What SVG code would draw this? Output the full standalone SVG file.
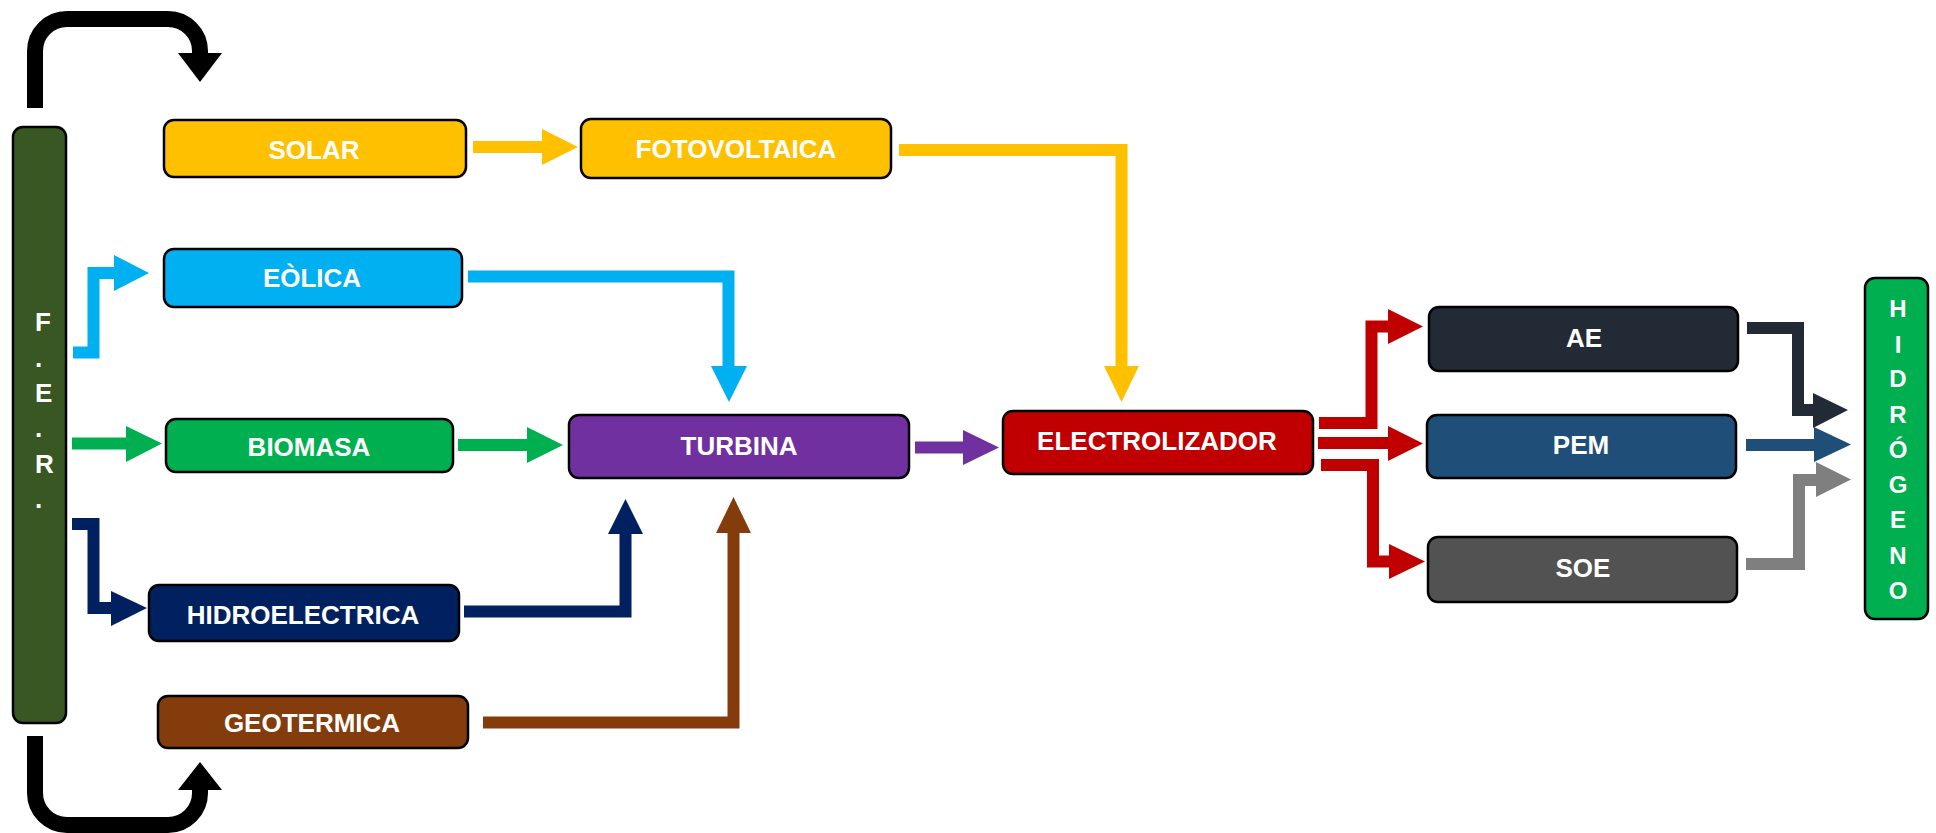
<svg xmlns="http://www.w3.org/2000/svg" width="1936" height="833" viewBox="0 0 1936 833">
<style>
.box{stroke:#000;stroke-width:2.5}
.lbl{font-family:"Liberation Sans",Arial,sans-serif;font-weight:bold;font-size:26px;fill:#fff;text-anchor:middle}
.vl{font-family:"Liberation Sans",Arial,sans-serif;font-weight:bold;fill:#fff}
.ln{fill:none;stroke-width:12;stroke-linejoin:miter;stroke-linecap:butt}
.bk{fill:none;stroke:#000;stroke-width:16}
</style>
<rect width="1936" height="833" fill="#fff"/>
<g id="connectors">
  <!-- FER loops -->
  <path class="bk" d="M35,108 V51 A32,32 0 0 1 67,19 H168 A32,32 0 0 1 200,51 V54"/>
  <polygon fill="#000" points="178,53 222,53 200,82"/>
  <path class="bk" d="M35,736 V793 A32,32 0 0 0 67,825 H168 A32,32 0 0 0 200,793 V789"/>
  <polygon fill="#000" points="178,790 222,790 200,762"/>
  <!-- FER to sources -->
  <path class="ln" stroke="#00B0F0" d="M73,352.5 H93.5 V273 H115"/>
  <polygon fill="#00B0F0" points="114,255 149,273 114,291"/>
  <path class="ln" stroke="#00B050" d="M72,443.5 H127"/>
  <polygon fill="#00B050" points="126,426 162,443.5 126,462"/>
  <path class="ln" stroke="#002060" d="M72,524 H93.5 V608 H112"/>
  <polygon fill="#002060" points="111,591 147,608 111,626"/>
  <!-- SOLAR to FOTOVOLTAICA -->
  <path class="ln" stroke="#FFC000" d="M473,147 H543"/>
  <polygon fill="#FFC000" points="542,129 578,147 542,165"/>
  <!-- FOTOVOLTAICA to ELECTROLIZADOR -->
  <path class="ln" stroke="#FFC000" d="M899,150 H1121.5 V367"/>
  <polygon fill="#FFC000" points="1104,366 1139,366 1121.5,402"/>
  <!-- EOLICA to TURBINA -->
  <path class="ln" stroke="#00B0F0" d="M468,276.5 H728.5 V367"/>
  <polygon fill="#00B0F0" points="711,366 747,366 729,402"/>
  <!-- BIOMASA to TURBINA -->
  <path class="ln" stroke="#00B050" d="M458,445 H528"/>
  <polygon fill="#00B050" points="527,427 563,445 527,463"/>
  <!-- HIDRO to TURBINA -->
  <path class="ln" stroke="#002060" d="M464,611.5 H625.5 V533"/>
  <polygon fill="#002060" points="608,534 643,534 625.5,499"/>
  <!-- GEO to TURBINA -->
  <path class="ln" stroke="#843C0C" d="M483,722.5 H733.5 V532"/>
  <polygon fill="#843C0C" points="716,533 751,533 733.5,497"/>
  <!-- TURBINA to ELECTROLIZADOR -->
  <path class="ln" stroke="#7030A0" d="M915,447.5 H964"/>
  <polygon fill="#7030A0" points="963,430 999,447.5 963,465"/>
  <!-- ELECTROLIZADOR to AE/PEM/SOE -->
  <path class="ln" stroke="#C00000" d="M1319,423 H1371.5 V326.5 H1389"/>
  <polygon fill="#C00000" points="1388,309 1423,326.5 1388,344"/>
  <path class="ln" stroke="#C00000" d="M1318,443 H1389"/>
  <polygon fill="#C00000" points="1388,426 1423,443.5 1388,461"/>
  <path class="ln" stroke="#C00000" d="M1321,465 H1373 V561.5 H1390"/>
  <polygon fill="#C00000" points="1389,544 1425,561.5 1389,579"/>
  <!-- AE/PEM/SOE to HIDROGENO -->
  <path class="ln" stroke="#222A35" d="M1747,328 H1798 V410 H1814"/>
  <polygon fill="#222A35" points="1813,393 1848,410 1813,428"/>
  <path class="ln" stroke="#1F4E79" d="M1746,445 H1815"/>
  <polygon fill="#1F4E79" points="1814,427 1851,444.5 1814,462"/>
  <path class="ln" stroke="#7F7F7F" d="M1746,564 H1799 V480 H1817"/>
  <polygon fill="#7F7F7F" points="1816,462 1851,479.5 1816,497"/>
</g>
<g id="fer">
  <rect class="box" x="13" y="127" width="53" height="596" rx="10" fill="#385723"/>
  <text class="vl" font-size="26" x="35" y="331">F</text>
  <text class="vl" font-size="26" x="35" y="367">.</text>
  <text class="vl" font-size="26" x="35" y="402">E</text>
  <text class="vl" font-size="26" x="35" y="437">.</text>
  <text class="vl" font-size="26" x="35" y="473">R</text>
  <text class="vl" font-size="26" x="35" y="508">.</text>
</g>
<g id="solar">
  <rect class="box" x="164" y="120" width="302" height="57" rx="10" fill="#FFC000"/>
  <text class="lbl" x="314" y="159">SOLAR</text>
</g>
<g id="eolica">
  <rect class="box" x="164" y="249" width="298" height="58" rx="10" fill="#00B0F0"/>
  <text class="lbl" x="312" y="287">EÒLICA</text>
</g>
<g id="biomasa">
  <rect class="box" x="166" y="419" width="287" height="53" rx="10" fill="#00B050"/>
  <text class="lbl" x="309" y="456">BIOMASA</text>
</g>
<g id="hidroelectrica">
  <rect class="box" x="149" y="585" width="310" height="56" rx="10" fill="#002060"/>
  <text class="lbl" x="303" y="624">HIDROELECTRICA</text>
</g>
<g id="geotermica">
  <rect class="box" x="158" y="696" width="310" height="52" rx="10" fill="#843C0C"/>
  <text class="lbl" x="312" y="732">GEOTERMICA</text>
</g>
<g id="fotovoltaica">
  <rect class="box" x="581" y="119" width="310" height="59" rx="10" fill="#FFC000"/>
  <text class="lbl" x="736" y="158">FOTOVOLTAICA</text>
</g>
<g id="turbina">
  <rect class="box" x="569" y="415" width="340" height="63" rx="10" fill="#7030A0"/>
  <text class="lbl" x="739" y="455">TURBINA</text>
</g>
<g id="electrolizador">
  <rect class="box" x="1003" y="411" width="310" height="63" rx="10" fill="#C00000"/>
  <text class="lbl" x="1157" y="450">ELECTROLIZADOR</text>
</g>
<g id="ae">
  <rect class="box" x="1429" y="307" width="309" height="64" rx="10" fill="#222A35"/>
  <text class="lbl" x="1584" y="347">AE</text>
</g>
<g id="pem">
  <rect class="box" x="1427" y="415" width="309" height="63" rx="10" fill="#1F4E79"/>
  <text class="lbl" x="1581" y="454">PEM</text>
</g>
<g id="soe">
  <rect class="box" x="1428" y="537" width="309" height="65" rx="10" fill="#525252"/>
  <text class="lbl" x="1583" y="577">SOE</text>
</g>
<g id="hidrogeno">
  <rect class="box" x="1865" y="278" width="63" height="341" rx="10" fill="#00B050"/>
  <g class="vl" font-size="24" text-anchor="middle">
    <text x="1898" y="317">H</text>
    <text x="1898" y="353">I</text>
    <text x="1898" y="387">D</text>
    <text x="1898" y="423">R</text>
    <text x="1898" y="458">Ó</text>
    <text x="1898" y="493">G</text>
    <text x="1898" y="528">E</text>
    <text x="1898" y="564">N</text>
    <text x="1898" y="599">O</text>
  </g>
</g>
</svg>
